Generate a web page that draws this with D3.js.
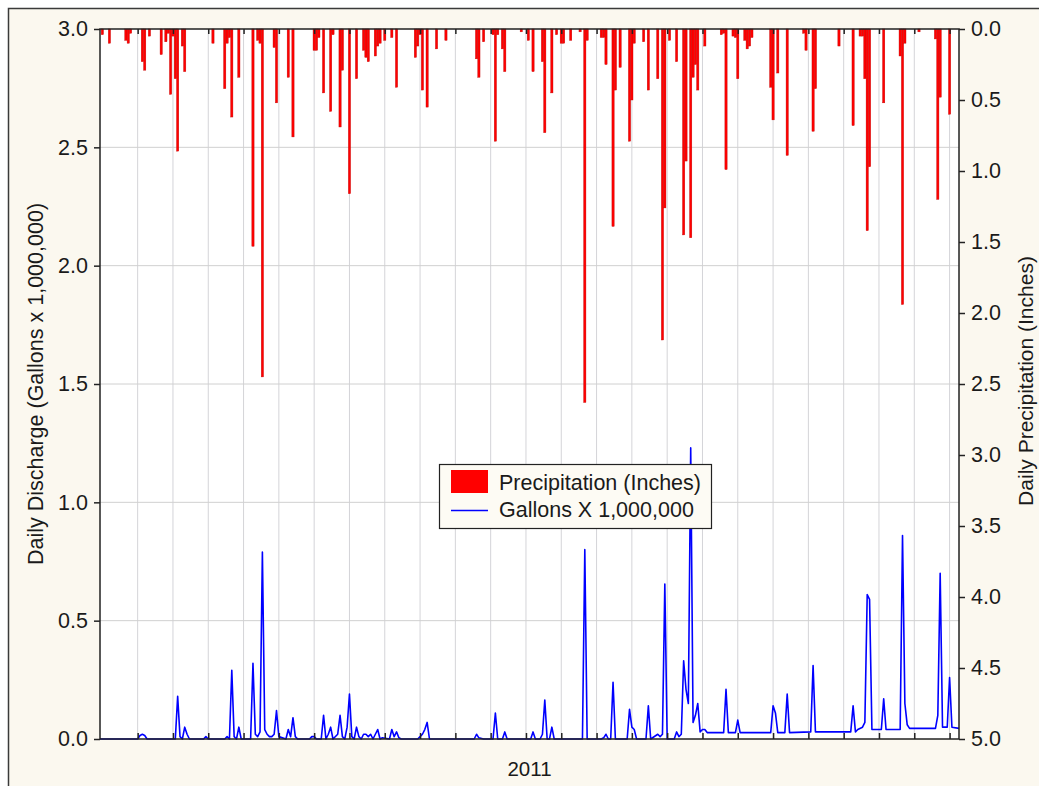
<!DOCTYPE html>
<html><head><meta charset="utf-8">
<script src="https://cdn.jsdelivr.net/npm/d3@7"></script>
<style>body{margin:0;background:#fff}svg{display:block}text{font-family:"Liberation Sans",Arial,sans-serif;fill:#1a1a1a}</style>
</head><body><svg id="c" width="1039" height="786"></svg>
<script>
// ---- data ----
const leftTicks = [0.0, 0.5, 1.0, 1.5, 2.0, 2.5, 3.0];
const rightTicks = [0.0, 0.5, 1.0, 1.5, 2.0, 2.5, 3.0, 3.5, 4.0, 4.5, 5.0];
const gridDays = [16,31,46,61,76,91,106,121,136,151,166,181,196,211,226,241,256,271,286,301,316,331,346,361];
const yearLabel = "2011";
const precipDays = [1,4,11,12,13,18,19,21,26,28,29,30,31,32,33,35,36,48,53,54,55,56,59,65,67,68,69,74,75,80,82,91,92,93,95,98,99,102,103,106,109,112,113,114,117,118,119,121,124,126,134,135,136,137,139,143,147,160,161,163,167,168,169,171,172,179,182,184,188,189,192,194,196,197,200,204,206,207,213,214,215,218,219,221,225,226,227,231,233,237,239,240,242,245,248,249,251,252,253,254,257,264,265,266,269,270,271,274,275,276,277,285,286,288,292,299,300,303,304,314,320,323,324,325,326,327,333,340,341,342,348,355,356,357,361];
const precipInches = [0.04,0.10,0.08,0.10,0.03,0.23,0.29,0.05,0.18,0.09,0.03,0.46,0.05,0.35,0.86,0.12,0.30,0.10,0.42,0.10,0.06,0.62,0.34,1.53,0.08,0.10,2.45,0.13,0.52,0.34,0.76,0.15,0.15,0.06,0.45,0.58,0.04,0.69,0.29,1.16,0.35,0.15,0.20,0.23,0.19,0.12,0.10,0.08,0.06,0.41,0.20,0.12,0.04,0.43,0.55,0.14,0.08,0.21,0.34,0.09,0.04,0.79,0.04,0.14,0.30,0.02,0.08,0.30,0.23,0.73,0.45,0.04,0.10,0.10,0.08,0.02,2.63,0.08,0.06,0.06,0.25,1.39,0.43,0.27,0.79,0.50,0.10,0.09,0.43,0.35,2.19,1.26,0.08,0.23,1.45,0.93,1.47,0.34,0.25,0.43,0.12,0.04,0.03,0.99,0.05,0.06,0.35,0.08,0.14,0.12,0.06,0.41,0.64,0.31,0.89,0.03,0.15,0.72,0.42,0.12,0.68,0.05,0.05,0.35,1.42,0.97,0.52,0.19,1.94,0.10,0.02,0.07,1.20,0.48,0.60];
const dischargeDays = [0,16,17,18,19,20,32,33,34,35,36,37,38,44,45,46,53,54,55,56,57,58,59,60,64,65,66,67,68,69,70,71,72,73,74,75,76,79,80,81,82,83,84,89,90,91,92,94,95,96,97,98,99,101,102,103,104,105,106,107,108,109,110,111,112,113,114,115,116,117,118,119,120,123,124,125,126,127,128,135,136,137,138,139,140,159,160,161,163,167,168,169,171,172,173,183,184,185,187,188,189,190,191,192,193,205,206,207,213,214,215,216,217,218,219,224,225,226,227,228,232,233,234,237,238,239,240,241,244,245,246,247,248,249,250,251,252,253,254,255,256,257,258,265,266,267,270,271,272,285,286,287,288,291,292,293,302,303,304,319,320,321,322,324,325,326,327,328,332,333,334,340,341,342,343,344,355,356,357,358,360,361,362,365];
const dischargeMgal = [0,0,0.015,0.02,0.015,0,0,0.18,0.01,0,0.05,0.02,0,0,0.01,0,0,0.01,0,0.29,0.01,0,0.05,0,0,0.32,0.02,0.01,0.03,0.79,0.04,0.02,0.01,0.01,0.02,0.12,0.01,0,0.04,0.01,0.09,0.01,0,0,0.01,0.01,0,0,0.10,0,0.02,0.05,0,0.02,0.10,0.01,0,0.05,0.19,0.01,0,0.05,0.01,0,0.02,0.02,0.01,0.02,0,0.02,0.04,0,0.005,0,0.04,0.01,0.03,0.005,0,0,0.01,0.02,0.04,0.07,0,0,0.02,0.005,0,0,0.11,0,0,0.03,0,0,0.03,0,0,0.02,0.165,0,0,0.05,0,0,0.80,0,0,0.005,0.02,0,0,0.24,0,0,0.125,0.05,0.04,0,0,0.14,0,0.02,0.01,0.02,0.655,0,0,0.03,0.01,0.02,0.33,0.21,0.15,1.23,0.07,0.10,0.15,0.03,0.04,0.04,0.027,0.027,0.21,0.027,0.027,0.08,0.027,0.027,0.14,0.11,0.027,0.027,0.19,0.027,0.03,0.31,0.03,0.03,0.14,0.03,0.04,0.05,0.07,0.61,0.59,0.04,0.04,0.17,0.04,0.04,0.86,0.15,0.06,0.045,0.045,0.10,0.70,0.05,0.05,0.26,0.05,0.045];
const legendLabels = ["Precipitation (Inches)", "Gallons X 1,000,000"];
const leftTitle = "Daily Discharge (Gallons x 1,000,000)";
const rightTitle = "Daily Precipitation (Inches)";

// ---- drawing ----
const svg = d3.select("#c");
const L = 100, T = 29, R = 959, B = 739;
const x = d3.scaleLinear().domain([0, 365]).range([L, R]);
const yL = d3.scaleLinear().domain([0, 3]).range([B, T]);
const yR = d3.scaleLinear().domain([0, 5]).range([T, B]);
const FS = 21.5;

svg.append("rect").attr("x", 8.5).attr("y", 8.5).attr("width", 1040).attr("height", 790)
  .attr("fill", "#fbf8ef").attr("stroke", "#3a3a3a").attr("stroke-width", 1.5);
svg.append("rect").attr("x", L).attr("y", T).attr("width", R - L).attr("height", B - T).attr("fill", "#fff");

// grid
svg.append("g").selectAll("line").data(gridDays).join("line")
  .attr("x1", d => x(d)).attr("x2", d => x(d)).attr("y1", T).attr("y2", B)
  .attr("stroke", "#d4d4d8").attr("stroke-width", 1);
svg.append("g").selectAll("line").data(leftTicks.slice(1, -1)).join("line")
  .attr("x1", L).attr("x2", R).attr("y1", d => yL(d)).attr("y2", d => yL(d))
  .attr("stroke", "#d0d0d0").attr("stroke-width", 1);

// precipitation bars
const precip = precipDays.map((d, i) => ({ day: d, v: precipInches[i] }));
const bw = (x(1) - x(0)) * 0.95;
svg.append("g").selectAll("rect").data(precip).join("rect")
  .attr("x", d => x(d.day) - bw / 2).attr("y", yR(0)).attr("width", bw)
  .attr("height", d => yR(d.v) - yR(0))
  .attr("fill", "#ff0000").attr("stroke", "#c00000").attr("stroke-width", 0.4);

// discharge line
const flow = dischargeDays.map((d, i) => ({ day: d, v: dischargeMgal[i] }));
svg.append("path").datum(flow)
  .attr("d", d3.line().x(d => x(d.day)).y(d => yL(d.v)))
  .attr("fill", "none").attr("stroke", "#0000ff").attr("stroke-width", 1.6).attr("stroke-linejoin", "round");

// frame
svg.append("rect").attr("x", L).attr("y", T).attr("width", R - L).attr("height", B - T)
  .attr("fill", "none").attr("stroke", "#222").attr("stroke-width", 1.5);

// axes
const axL = d3.axisLeft(yL).tickValues(leftTicks).tickFormat(d3.format(".1f")).tickSize(6).tickPadding(6);
const gL = svg.append("g").attr("transform", `translate(${L},0)`).call(axL);
const axR = d3.axisRight(yR).tickValues(rightTicks).tickFormat(d3.format(".1f")).tickSize(6).tickPadding(6);
const gR = svg.append("g").attr("transform", `translate(${R},0)`).call(axR);
const axB = d3.axisBottom(x).tickValues(gridDays).tickFormat("").tickSize(-6);
const gB = svg.append("g").attr("transform", `translate(0,${B})`).call(axB);
const axT = d3.axisTop(x).tickValues(gridDays).tickFormat("").tickSize(-5);
const gT = svg.append("g").attr("transform", `translate(0,${T})`).call(axT);
[gL, gR, gB, gT].forEach(g => {
  g.select(".domain").remove();
  g.selectAll(".tick line").attr("stroke", "#222").attr("stroke-width", 1.5);
  g.selectAll("text").style("font-size", FS + "px").attr("fill", "#1a1a1a")
    .style("font-family", '"Liberation Sans",Arial,sans-serif');
});

// titles
svg.append("text").attr("transform", `translate(43,384) rotate(-90)`)
  .attr("text-anchor", "middle").style("font-size", "21.5px").text(leftTitle);
svg.append("text").attr("transform", `translate(1032.5,381) rotate(-90)`)
  .attr("text-anchor", "middle").style("font-size", "21px").text(rightTitle);
svg.append("text").attr("x", (L + R) / 2).attr("y", 776).attr("text-anchor", "middle")
  .style("font-size", "20.5px").text(yearLabel);

// legend
const lg = svg.append("g");
lg.append("rect").attr("x", 439.5).attr("y", 464.5).attr("width", 272).attr("height", 64)
  .attr("fill", "#fdfbf4").attr("stroke", "#222").attr("stroke-width", 1.2);
lg.append("rect").attr("x", 451).attr("y", 470).attr("width", 37).attr("height", 23).attr("fill", "#ff0000");
lg.append("line").attr("x1", 451).attr("x2", 488).attr("y1", 510.5).attr("y2", 510.5)
  .attr("stroke", "#0000ff").attr("stroke-width", 1.5);
lg.selectAll("text.l").data(legendLabels).join("text").attr("class", "l")
  .attr("x", 499).attr("y", (d, i) => 490 + i * 27).style("font-size", "21.5px").text(d => d);
</script></body></html>
